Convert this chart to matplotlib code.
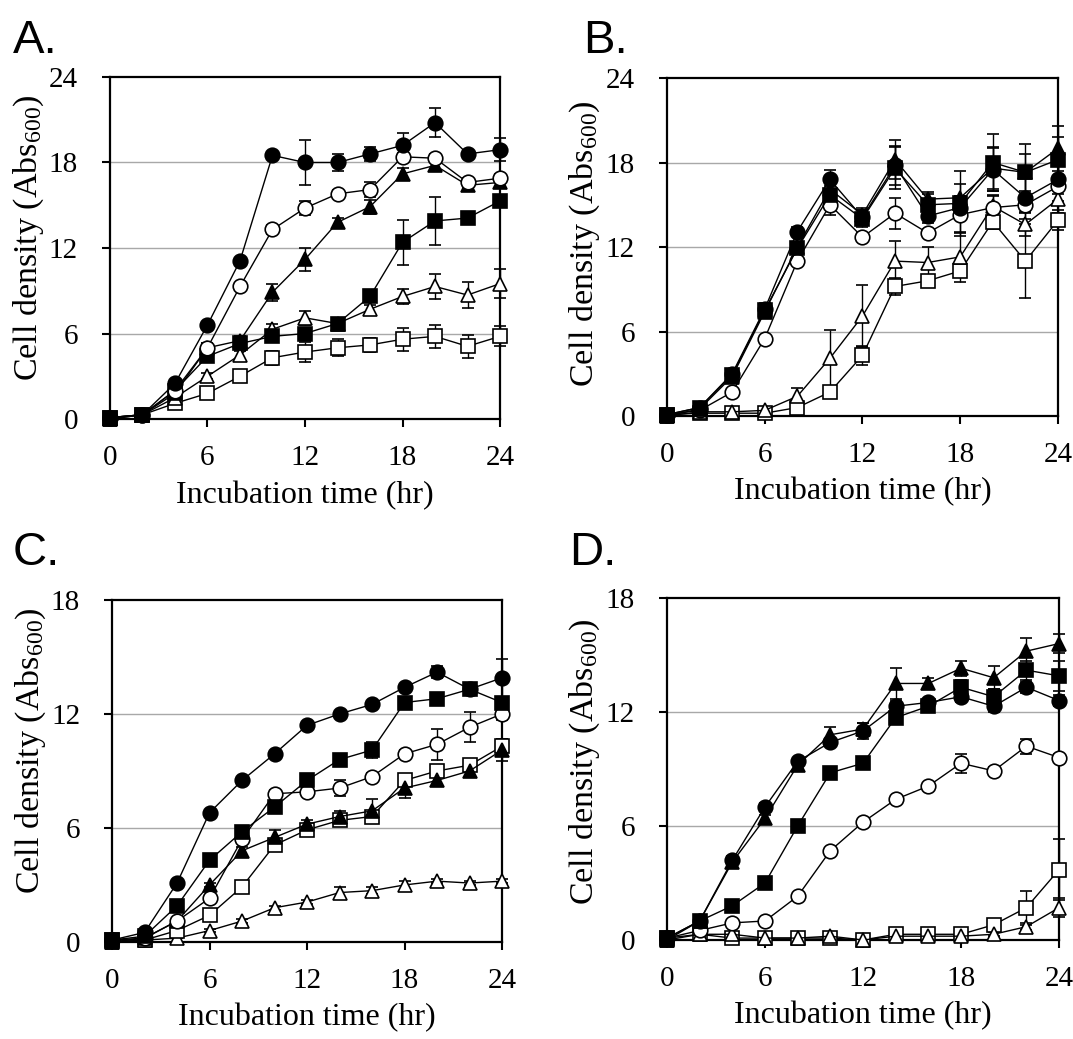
import matplotlib
matplotlib.use("Agg")
import matplotlib.pyplot as plt

hours = [0, 2, 4, 6, 8, 10, 12, 14, 16, 18, 20, 22, 24]

# panel A
a_fc = [0.1, 0.3, 2.5, 6.6, 11.1, 18.5, 18.0, 18.0, 18.6, 19.2, 20.8, 18.6, 18.9]
a_fc_err = [0, 0, 0.2, 0.2, 0.2, 0.2, 1.6, 0.6, 0.5, 0.9, 1.0, 0.3, 0.8]
a_oc = [0.1, 0.3, 2.0, 5.0, 9.3, 13.3, 14.8, 15.8, 16.1, 18.4, 18.3, 16.6, 16.9]
a_oc_err = [0, 0, 0.2, 0.3, 0.2, 0.3, 0.5, 0.3, 0.5, 0.3, 0.3, 0.3, 0.3]
a_ft = [0.0, 0.3, 1.8, 5.0, 5.5, 8.9, 11.2, 13.8, 14.9, 17.2, 17.8, 16.4, 16.6]
a_ft_err = [0, 0, 0.2, 0.3, 0.3, 0.6, 0.8, 0.3, 0.5, 0.4, 0.3, 0.3, 0.3]
a_fs = [0.1, 0.3, 2.0, 4.4, 5.3, 5.8, 6.0, 6.7, 8.6, 12.4, 13.9, 14.1, 15.3]
a_fs_err = [0, 0, 0.2, 0.3, 0.3, 0.3, 0.3, 0.3, 0.3, 1.6, 1.7, 0.3, 0.4]
a_ot = [0.0, 0.3, 1.5, 3.0, 4.5, 6.3, 7.1, 6.7, 7.7, 8.6, 9.3, 8.7, 9.5]
a_ot_err = [0, 0, 0.2, 0.2, 0.3, 0.4, 0.5, 0.4, 0.3, 0.5, 0.9, 0.9, 1.0]
a_os = [0.1, 0.3, 1.1, 1.8, 3.0, 4.3, 4.7, 5.0, 5.2, 5.6, 5.8, 5.1, 5.8]
a_os_err = [0, 0, 0.1, 0.2, 0.2, 0.5, 0.7, 0.6, 0.5, 0.8, 0.8, 0.8, 0.7]

# panel B
b_fc = [0.1, 0.6, 3.0, 7.6, 13.1, 16.8, 14.1, 17.8, 14.2, 14.8, 17.5, 15.5, 16.8]
b_fc_err = [0, 0, 0.2, 0.4, 0.3, 0.7, 0.5, 1.4, 0.5, 0.8, 1.5, 1.5, 1.5]
b_fs = [0.1, 0.6, 2.9, 7.5, 11.9, 15.7, 14.0, 17.6, 15.0, 15.1, 18.0, 17.3, 18.2]
b_fs_err = [0, 0, 0.2, 0.3, 0.3, 0.6, 0.6, 1.5, 0.8, 2.3, 2.0, 2.0, 1.6]
b_ft = [0.0, 0.5, 2.8, 7.4, 12.0, 16.1, 14.3, 18.2, 15.4, 15.5, 17.6, 17.3, 19.0]
b_ft_err = [0, 0, 0.2, 0.3, 0.3, 0.7, 0.5, 1.4, 0.5, 1.0, 1.5, 1.3, 1.6]
b_oc = [0.1, 0.4, 1.7, 5.5, 11.0, 15.0, 12.7, 14.4, 13.0, 14.3, 14.8, 15.0, 16.3]
b_oc_err = [0, 0, 0.2, 0.2, 0.3, 0.7, 0.3, 1.1, 0.3, 1.3, 0.8, 0.5, 0.5]
b_ot = [0.0, 0.3, 0.3, 0.4, 1.4, 4.1, 7.1, 11.0, 10.9, 11.3, 14.9, 13.6, 15.4]
b_ot_err = [0, 0, 0, 0, 0.6, 2.0, 2.2, 1.4, 1.1, 1.8, 0.8, 0.8, 1.0]
b_os = [0.1, 0.2, 0.2, 0.2, 0.6, 1.7, 4.3, 9.2, 9.6, 10.3, 13.8, 11.0, 13.9]
b_os_err = [0, 0, 0, 0, 0.2, 0.3, 0.7, 0.6, 0.3, 0.4, 0.5, 2.6, 0.7]

# panel C
c_fc = [0.1, 0.5, 3.1, 6.8, 8.5, 9.9, 11.4, 12.0, 12.5, 13.4, 14.2, 13.3, 13.9]
c_fc_err = [0, 0, 0.1, 0.1, 0.1, 0.1, 0.1, 0.1, 0.1, 0.2, 0.3, 0.2, 1.0]
c_fs = [0.1, 0.3, 1.9, 4.3, 5.8, 7.1, 8.5, 9.6, 10.1, 12.6, 12.8, 13.3, 12.6]
c_fs_err = [0, 0, 0.1, 0.1, 0.1, 0.2, 0.2, 0.2, 0.4, 0.2, 0.2, 0.2, 0.3]
c_oc = [0.1, 0.2, 1.1, 2.3, 5.4, 7.8, 7.9, 8.1, 8.7, 9.9, 10.4, 11.3, 12.0]
c_oc_err = [0, 0, 0.1, 0.1, 0.1, 0.2, 0.2, 0.4, 0.2, 0.2, 0.8, 0.8, 0.3]
c_ft = [0.0, 0.2, 1.1, 3.0, 4.8, 5.5, 6.2, 6.6, 6.9, 8.1, 8.5, 9.0, 10.1]
c_ft_err = [0, 0, 0.1, 0.1, 0.2, 0.4, 0.2, 0.3, 0.6, 0.5, 0.2, 0.3, 0.6]
c_os = [0.1, 0.1, 0.6, 1.4, 2.9, 5.1, 5.9, 6.4, 6.6, 8.5, 9.0, 9.3, 10.3]
c_os_err = [0, 0, 0.1, 0.1, 0.1, 0.2, 0.2, 0.2, 0.3, 0.3, 0.3, 0.3, 0.4]
c_ot = [0.0, 0.1, 0.2, 0.6, 1.1, 1.8, 2.1, 2.6, 2.7, 3.0, 3.2, 3.1, 3.2]
c_ot_err = [0, 0, 0, 0.1, 0.1, 0.1, 0.1, 0.3, 0.2, 0.2, 0.1, 0.1, 0.1]

# panel D
d_ft = [0.0, 1.0, 4.1, 6.4, 9.2, 10.8, 11.1, 13.5, 13.5, 14.3, 13.8, 15.2, 15.6]
d_ft_err = [0, 0.1, 0.2, 0.2, 0.2, 0.4, 0.3, 0.8, 0.3, 0.4, 0.6, 0.7, 0.5]
d_fc = [0.1, 1.0, 4.2, 7.0, 9.4, 10.4, 11.0, 12.3, 12.5, 12.8, 12.3, 13.3, 12.6]
d_fc_err = [0, 0.1, 0.2, 0.2, 0.2, 0.2, 0.4, 0.3, 0.2, 0.3, 0.3, 0.3, 0.3]
d_fs = [0.1, 1.0, 1.8, 3.0, 6.0, 8.8, 9.3, 11.7, 12.3, 13.3, 12.8, 14.2, 13.9]
d_fs_err = [0, 0.1, 0.1, 0.1, 0.2, 0.2, 0.2, 0.3, 0.2, 0.4, 0.4, 0.5, 0.8]
d_oc = [0.1, 0.5, 0.9, 1.0, 2.3, 4.7, 6.2, 7.4, 8.1, 9.3, 8.9, 10.2, 9.6]
d_oc_err = [0, 0, 0, 0, 0.1, 0.1, 0.1, 0.1, 0.1, 0.5, 0.2, 0.4, 0.2]
d_os = [0.1, 0.3, 0.1, 0.1, 0.1, 0.1, 0.0, 0.3, 0.3, 0.3, 0.8, 1.7, 3.7]
d_os_err = [0, 0, 0, 0, 0, 0, 0, 0, 0, 0, 0.2, 0.9, 1.6]
d_ot = [0.0, 0.3, 0.3, 0.1, 0.1, 0.2, 0.0, 0.2, 0.2, 0.2, 0.3, 0.7, 1.7]
d_ot_err = [0, 0, 0, 0, 0, 0, 0, 0, 0, 0, 0.1, 0.2, 0.5]

plt.rcParams["font.family"] = ["Liberation Serif", "DejaVu Serif"]
plt.rcParams["mathtext.fontset"] = "custom"
plt.rcParams["mathtext.rm"] = "Liberation Serif"
plt.rcParams["mathtext.it"] = "Liberation Serif:italic"

# (marker, filled)
styles = {
    "fc": ("o", True), "oc": ("o", False),
    "fs": ("s", True), "os": ("s", False),
    "ft": ("^", True), "ot": ("^", False),
}

# letter, axes rect, y max, letter position (px from top-left), ylabel y, series
panels = [
    ("A.", [0.1025, 0.5967, 0.3635, 0.3292], 24, (13, 53), 0.53,
     [("os", a_os, a_os_err), ("ot", a_ot, a_ot_err), ("fs", a_fs, a_fs_err),
      ("ft", a_ft, a_ft_err), ("oc", a_oc, a_oc_err), ("fc", a_fc, a_fc_err)]),
    ("B.", [0.6216, 0.5996, 0.3644, 0.3253], 24, (583, 53), 0.51,
     [("os", b_os, b_os_err), ("ot", b_ot, b_ot_err), ("oc", b_oc, b_oc_err),
      ("fc", b_fc, b_fc_err), ("fs", b_fs, b_fs_err), ("ft", b_ft, b_ft_err)]),
    ("C.", [0.1044, 0.0934, 0.3635, 0.3292], 18, (13, 565), 0.56,
     [("ot", c_ot, c_ot_err), ("os", c_os, c_os_err), ("ft", c_ft, c_ft_err),
      ("oc", c_oc, c_oc_err), ("fs", c_fs, c_fs_err), ("fc", c_fc, c_fc_err)]),
    ("D.", [0.6216, 0.0953, 0.3654, 0.3292], 18, (569, 565), 0.52,
     [("os", d_os, d_os_err), ("ot", d_ot, d_ot_err), ("oc", d_oc, d_oc_err),
      ("fs", d_fs, d_fs_err), ("fc", d_fc, d_fc_err), ("ft", d_ft, d_ft_err)]),
]

W, H = 1073, 1039
fig = plt.figure(figsize=(W / 100, H / 100), dpi=100)

for letter, rect, ymax, (lx, ly), ylab_y, series in panels:
    ax = fig.add_axes(rect)
    for y in range(6, ymax, 6):
        ax.axhline(y, color="#a8a8a8", lw=1.0, zorder=0)
    for key, vals, errs in series:
        marker, filled = styles[key]
        ms = 9.5 if marker == "s" else 10.5
        ax.errorbar(hours, vals, yerr=errs, color="black", lw=1.0,
                    elinewidth=1.0, capsize=4.5, capthick=1.0,
                    marker=marker, ms=ms, mec="black", mew=1.2,
                    mfc="black" if filled else "white", clip_on=False, zorder=3)
    ax.set_xlim(0, 24)
    ax.set_ylim(0, ymax)
    ax.set_xticks([0, 6, 12, 18, 24])
    ax.set_yticks(range(0, ymax + 1, 6))
    ax.tick_params(direction="out", length=6, width=1.5, labelsize=21)
    ax.tick_params(axis="x", pad=12.5)
    ax.tick_params(axis="y", pad=17)
    for sp in ax.spines.values():
        sp.set_linewidth(1.6)
    ax.set_xlabel("Incubation time (hr)", fontsize=23, labelpad=7)
    ax.set_ylabel("Cell density (Abs$_{600}$)", fontsize=24.5)
    ax.yaxis.set_label_coords(-0.165, ylab_y)
    fig.text(lx / W, 1 - ly / H, letter, fontsize=34,
             family="Liberation Sans", ha="left", va="baseline")

fig.savefig("out.png", dpi=100)
